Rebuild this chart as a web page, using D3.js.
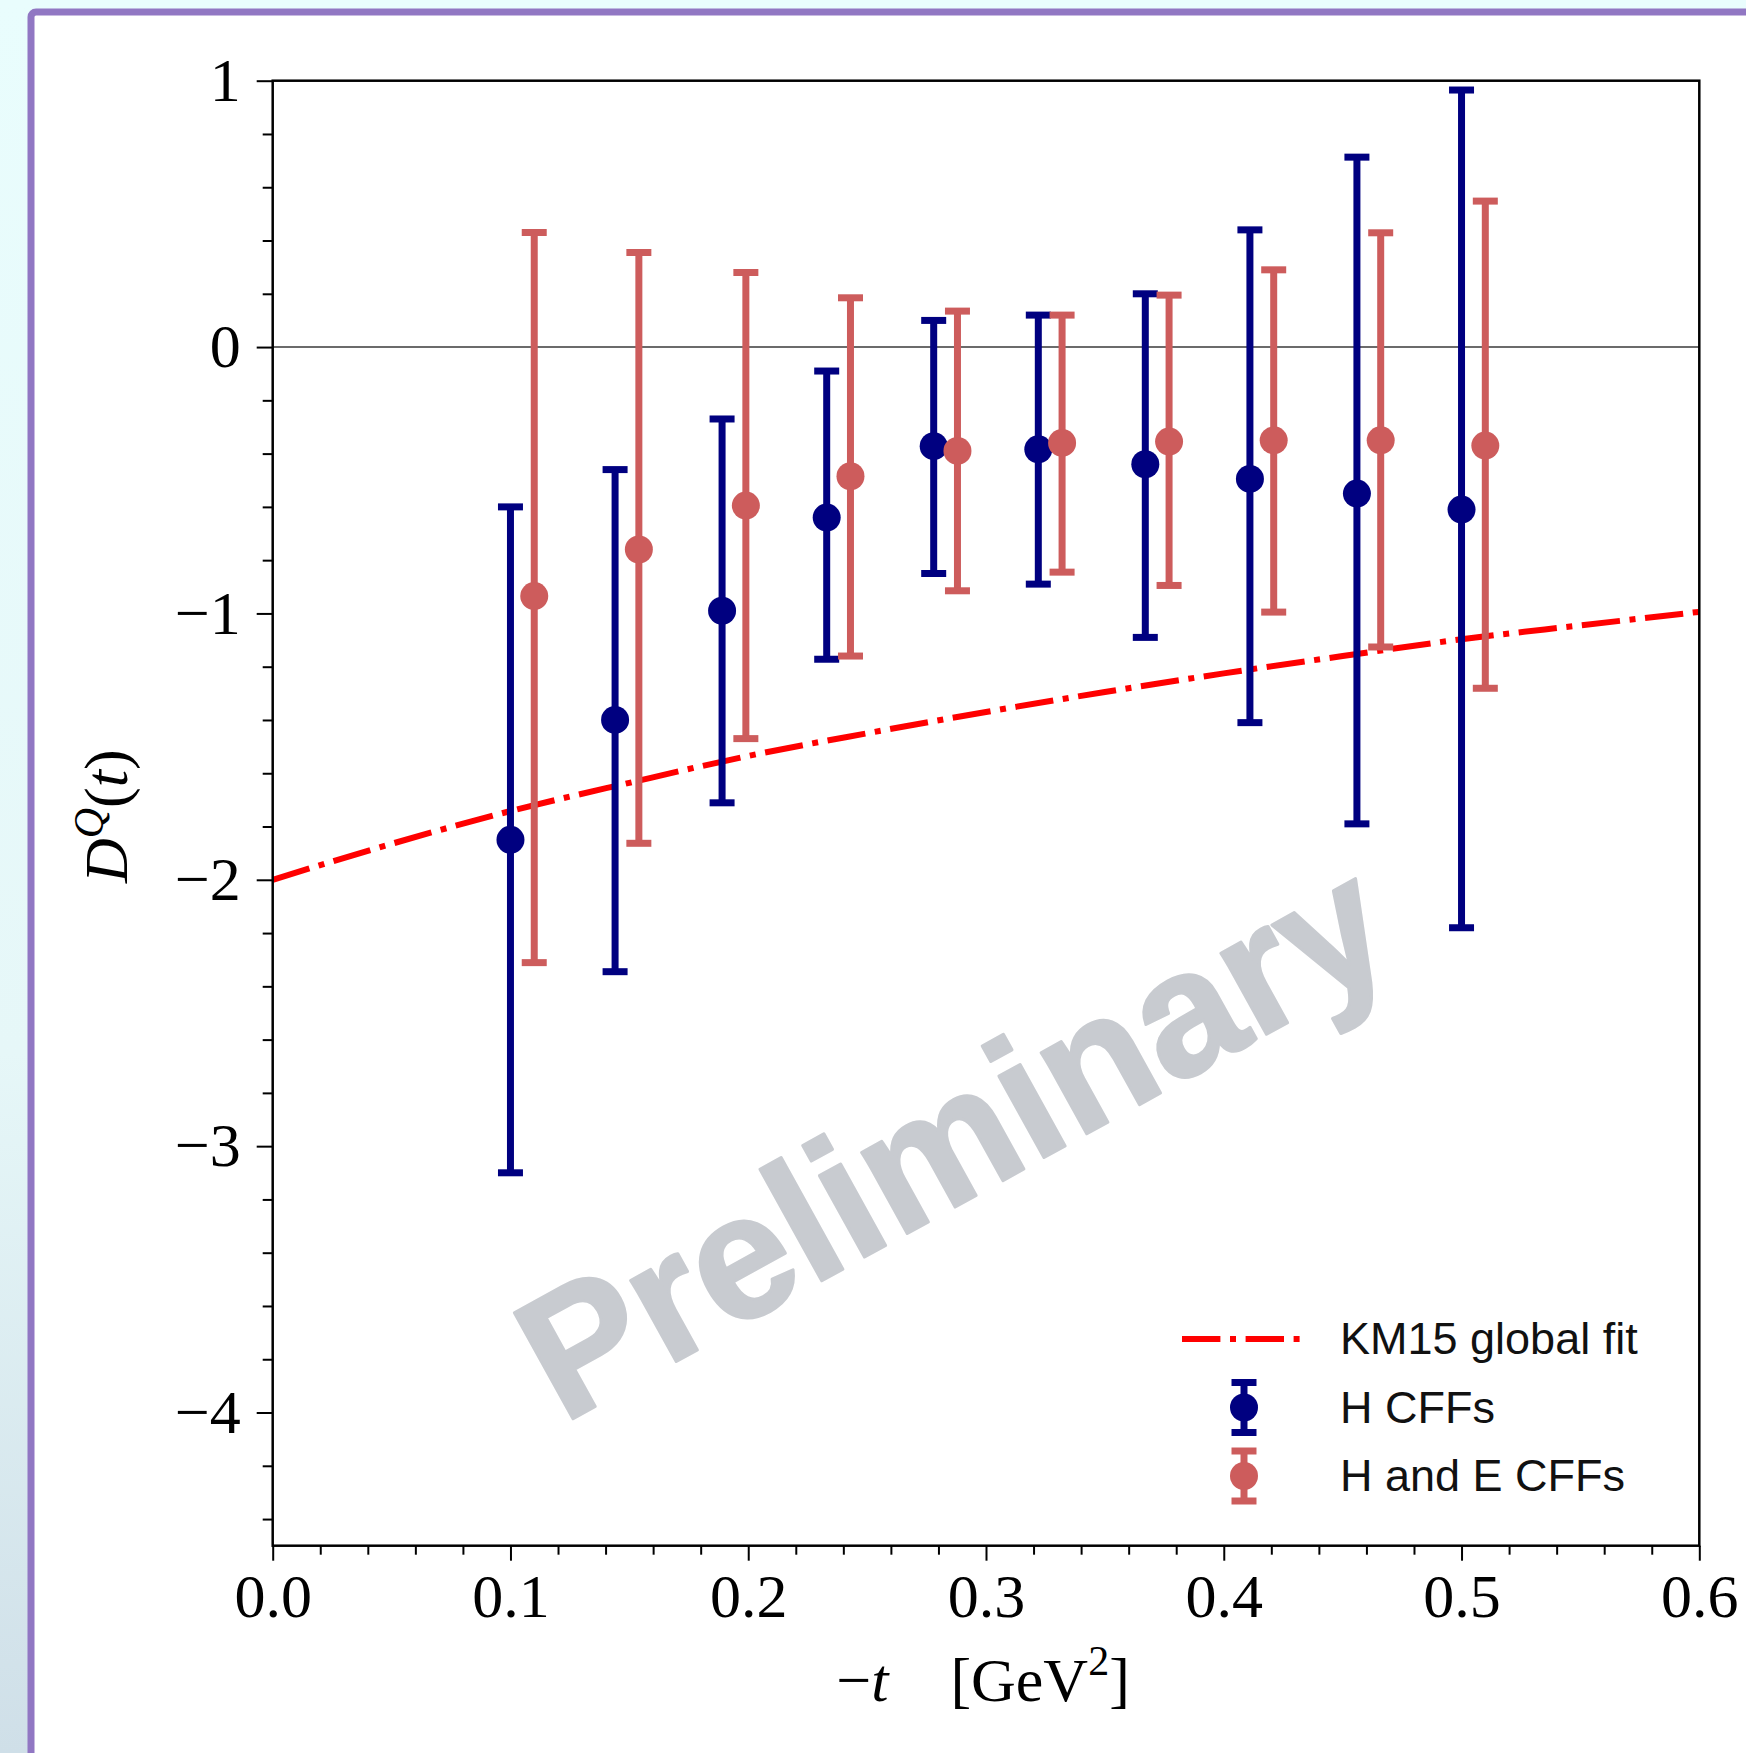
<!DOCTYPE html>
<html>
<head>
<meta charset="utf-8">
<script src="https://cdn.jsdelivr.net/npm/d3@7"></script>
<style>
  html, body { margin: 0; padding: 0; background: #e8fcfc; }
  svg { display: block; }
</style>
</head>
<body>
<svg id="chart" width="1746" height="1753"></svg>
<script>
// ── Data ──────────────────────────────────────────────────────────────────────
const T_H      = [0.100, 0.144, 0.189, 0.233, 0.278, 0.322, 0.367, 0.411, 0.456, 0.500];
const D_H      = [-1.85, -1.40, -0.99, -0.64, -0.372, -0.384, -0.44, -0.495, -0.55, -0.61];
const D_H_HI   = [-0.60, -0.46, -0.27, -0.09, 0.10, 0.12, 0.20, 0.44, 0.713, 0.965];
const D_H_LO   = [-3.10, -2.345, -1.711, -1.172, -0.85, -0.89, -1.09, -1.41, -1.79, -2.18];

const T_HE     = [0.110, 0.154, 0.199, 0.243, 0.288, 0.332, 0.377, 0.421, 0.466, 0.510];
const D_HE     = [-0.935, -0.76, -0.595, -0.485, -0.39, -0.36, -0.355, -0.35, -0.35, -0.37];
const D_HE_HI  = [0.43, 0.355, 0.28, 0.185, 0.135, 0.12, 0.195, 0.29, 0.429, 0.548];
const D_HE_LO  = [-2.311, -1.863, -1.47, -1.16, -0.915, -0.845, -0.895, -0.995, -1.126, -1.281];

const T_FIT    = [0, 0.05, 0.10, 0.15, 0.20, 0.25, 0.30, 0.35, 0.40, 0.45, 0.50, 0.55, 0.60];
const D_FIT    = [-2.00, -1.865, -1.742, -1.636, -1.535, -1.45, -1.37, -1.295, -1.225, -1.16, -1.097, -1.045, -0.994];

const X_TICKS  = [0, 0.1, 0.2, 0.3, 0.4, 0.5, 0.6];
const Y_TICKS  = [1, 0, -1, -2, -3, -4];
const LEGEND   = ['KM15 global fit', 'H CFFs', 'H and E CFFs'];

// ── Style ─────────────────────────────────────────────────────────────────────
const COL_H   = '#000080';
const COL_HE  = '#cd5c5c';
const COL_FIT = '#ff0000';
const SERIF   = '"Liberation Serif", "DejaVu Serif", serif';
const SANS    = '"Liberation Sans", Arial, sans-serif';

const svg = d3.select('#chart');

// ── Page background + slide frame ─────────────────────────────────────────────
const defs = svg.append('defs');
const bg = defs.append('linearGradient').attr('id', 'bg')
    .attr('x1', 0).attr('y1', 0).attr('x2', 0).attr('y2', 1);
bg.append('stop').attr('offset', 0).attr('stop-color', '#e9fdfd');
bg.append('stop').attr('offset', 0.6).attr('stop-color', '#e6f7f8');
bg.append('stop').attr('offset', 1).attr('stop-color', '#cfdfe8');

svg.append('rect').attr('width', 1746).attr('height', 1753).attr('fill', 'url(#bg)');
svg.append('rect').attr('x', 31).attr('y', 12).attr('width', 1720).attr('height', 1750)
    .attr('rx', 5).attr('fill', '#ffffff')
    .attr('stroke', '#9177c3').attr('stroke-width', 7);

// ── Scales ────────────────────────────────────────────────────────────────────
const L = 272.7, R = 1699.3, T = 80.7, B = 1545.7;
const x = d3.scaleLinear().domain([0, 0.6]).range([L, R]);
const y = d3.scaleLinear().domain([-4.5, 1]).range([B, T]);

const fmtY = d => d < 0 ? '\u2212' + Math.abs(d) : String(d);

// zero line
svg.append('line')
    .attr('x1', L).attr('x2', R).attr('y1', y(0)).attr('y2', y(0))
    .attr('stroke', '#3a3a3a').attr('stroke-width', 1.5);

// ── Axes ──────────────────────────────────────────────────────────────────────
const yMinor = d3.range(-4.4, 1.0001, 0.2).filter(v => Math.abs(v - Math.round(v)) > 1e-6);
const xMinor = d3.range(0.02, 0.6, 0.02).filter(v => Math.abs(v * 10 - Math.round(v * 10)) > 1e-6);

function styleAxis(g) {
    g.select('.domain').remove();
    g.selectAll('line').attr('stroke', '#000').attr('stroke-width', 2);
    g.selectAll('text').attr('fill', '#000').attr('font-family', SERIF).attr('font-size', 62);
}

svg.append('g').attr('transform', `translate(${L},0)`)
    .call(d3.axisLeft(y).tickValues(yMinor).tickSize(10).tickFormat(''))
    .call(styleAxis);
svg.append('g').attr('transform', `translate(${L},0)`)
    .call(d3.axisLeft(y).tickValues(Y_TICKS).tickSize(16).tickPadding(16).tickFormat(fmtY))
    .call(styleAxis);

svg.append('g').attr('transform', `translate(0,${B})`)
    .call(d3.axisBottom(x).tickValues(xMinor).tickSize(9).tickFormat(''))
    .call(styleAxis);
svg.append('g').attr('transform', `translate(0,${B})`)
    .call(d3.axisBottom(x).tickValues(X_TICKS).tickSize(15).tickPadding(12).tickFormat(d3.format('.1f')))
    .call(styleAxis);

// ── KM15 curve ────────────────────────────────────────────────────────────────
const line = d3.line().x(d => x(d[0])).y(d => y(d[1])).curve(d3.curveMonotoneX);
svg.append('path')
    .datum(d3.zip(T_FIT, D_FIT))
    .attr('d', line)
    .attr('fill', 'none')
    .attr('stroke', COL_FIT)
    .attr('stroke-width', 6)
    .attr('stroke-dasharray', '38.4,9.6,6,9.6');

// ── Error bars ────────────────────────────────────────────────────────────────
const CAP = 12.5, EW = 7, MR = 14;

function errorSeries(ts, vals, lo, hi, color) {
    const data = ts.map((t, i) => ({ t, v: vals[i], lo: lo[i], hi: hi[i] }));
    const g = svg.append('g');
    g.selectAll('line.bar').data(data).join('line').attr('class', 'bar')
        .attr('x1', d => x(d.t)).attr('x2', d => x(d.t))
        .attr('y1', d => y(d.lo)).attr('y2', d => y(d.hi))
        .attr('stroke', color).attr('stroke-width', EW);
    ['lo', 'hi'].forEach(k => {
        g.selectAll(`line.cap-${k}`).data(data).join('line').attr('class', `cap-${k}`)
            .attr('x1', d => x(d.t) - CAP).attr('x2', d => x(d.t) + CAP)
            .attr('y1', d => y(d[k])).attr('y2', d => y(d[k]))
            .attr('stroke', color).attr('stroke-width', EW);
    });
    g.selectAll('circle').data(data).join('circle')
        .attr('cx', d => x(d.t)).attr('cy', d => y(d.v)).attr('r', MR)
        .attr('fill', color);
}

errorSeries(T_H, D_H, D_H_LO, D_H_HI, COL_H);
errorSeries(T_HE, D_HE, D_HE_LO, D_HE_HI, COL_HE);

// ── Frame ─────────────────────────────────────────────────────────────────────
svg.append('rect')
    .attr('x', L).attr('y', T).attr('width', R - L).attr('height', B - T)
    .attr('fill', 'none').attr('stroke', '#000').attr('stroke-width', 2.5);

// ── Axis labels ───────────────────────────────────────────────────────────────
const xl = svg.append('text')
    .attr('x', (L + R) / 2 - 3).attr('y', 1701)
    .attr('text-anchor', 'middle')
    .attr('font-family', SERIF).attr('font-size', 62).attr('fill', '#000');
xl.append('tspan').text('\u2212');
xl.append('tspan').attr('font-style', 'italic').text('t');
xl.append('tspan').attr('dx', 62).text('[GeV');
xl.append('tspan').attr('dy', -26).attr('font-size', 42).text('2');
xl.append('tspan').attr('dy', 26).text(']');

const yl = svg.append('text')
    .attr('transform', `translate(127,${(T + B) / 2 + 3}) rotate(-90)`)
    .attr('text-anchor', 'middle')
    .attr('font-family', SERIF).attr('font-size', 62).attr('fill', '#000');
yl.append('tspan').attr('font-style', 'italic').text('D');
yl.append('tspan').attr('font-style', 'italic').attr('dy', -24).attr('font-size', 42).text('Q');
yl.append('tspan').attr('dy', 24).text('(');
yl.append('tspan').attr('font-style', 'italic').text('t');
yl.append('tspan').text(')');

// ── Legend ────────────────────────────────────────────────────────────────────
const LEG_X = 1244, LEG_TX = 1340, LEG_Y0 = 1339, LEG_DY = 68.5;
const leg = svg.append('g');

leg.append('line')
    .attr('x1', 1182).attr('x2', 1301).attr('y1', LEG_Y0).attr('y2', LEG_Y0)
    .attr('stroke', COL_FIT).attr('stroke-width', 6)
    .attr('stroke-dasharray', '38.4,9.6,6,9.6');

[COL_H, COL_HE].forEach((c, i) => {
    const cy = LEG_Y0 + LEG_DY * (i + 1);
    leg.append('line').attr('x1', LEG_X).attr('x2', LEG_X)
        .attr('y1', cy - 25).attr('y2', cy + 25)
        .attr('stroke', c).attr('stroke-width', EW);
    [-25, 25].forEach(o => leg.append('line')
        .attr('x1', LEG_X - CAP).attr('x2', LEG_X + CAP)
        .attr('y1', cy + o).attr('y2', cy + o)
        .attr('stroke', c).attr('stroke-width', EW));
    leg.append('circle').attr('cx', LEG_X).attr('cy', cy).attr('r', MR).attr('fill', c);
});

leg.selectAll('text').data(LEGEND).join('text')
    .attr('x', LEG_TX)
    .attr('y', (_, i) => LEG_Y0 + LEG_DY * i + 15)
    .attr('font-family', SANS).attr('font-size', 45).attr('fill', '#111')
    .text(d => d);

// ── Watermark ─────────────────────────────────────────────────────────────────
svg.append('text')
    .attr('transform', 'translate(982,1192) rotate(-29)')
    .attr('text-anchor', 'middle')
    .attr('font-family', SANS).attr('font-weight', 700).attr('font-size', 176)
    .attr('fill', '#c8cbd0')
    .attr('stroke', '#c8cbd0').attr('stroke-width', 3).attr('stroke-linejoin', 'round')
    .text('Preliminary');
</script>
</body>
</html>
